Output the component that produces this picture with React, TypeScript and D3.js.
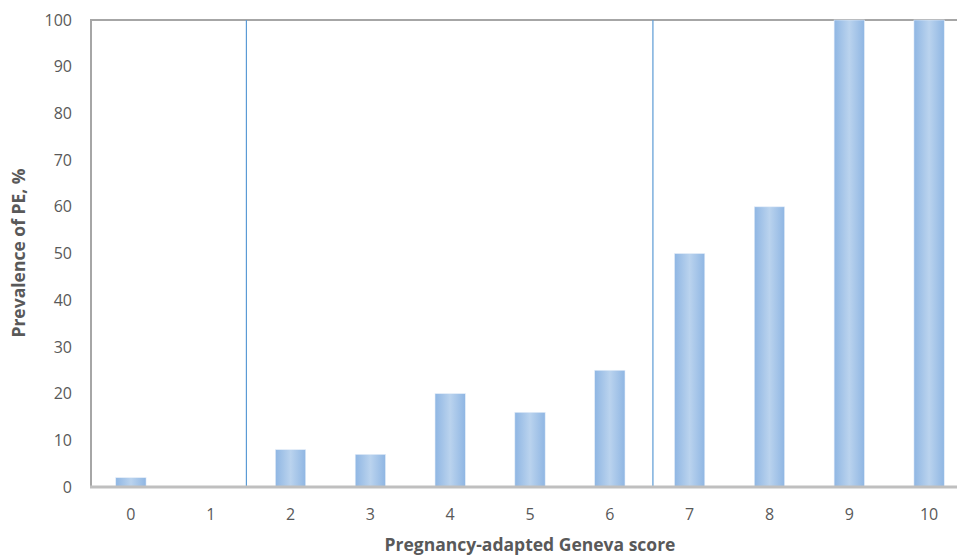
import React from "react";
import * as d3 from "d3";

const categories = ["0", "1", "2", "3", "4", "5", "6", "7", "8", "9", "10"];
const prevalence = [2, 0, 8, 7, 20, 16, 25, 50, 60, 100, 100];
const yTicks = [0, 10, 20, 30, 40, 50, 60, 70, 80, 90, 100];
const cutoffs = [1.447, 6.54];

const W = 957;
const H = 556;
const M = { left: 91, right: 969, top: 20, bottom: 487 };

export default function App() {
  const x = d3.scaleBand<string>().domain(categories).range([M.left, M.right]).paddingInner(0.62).paddingOuter(0.31);
  const step = x.step();
  const center = (i: number) => (x(categories[0]) as number) + x.bandwidth() / 2 + i * step;
  const y = d3.scaleLinear().domain([0, 100]).range([M.bottom, M.top]);
  const font = "'Open Sans', 'Liberation Sans', sans-serif";
  return (
    <svg width={W} height={H} style={{ position: "absolute", left: 0, top: 0, background: "#fff" }}>
      <defs>
        <linearGradient id="barGrad" x1="0" x2="1" y1="0" y2="0">
          <stop offset="0%" stopColor="#8fb6e3" />
          <stop offset="50%" stopColor="#bad3ee" />
          <stop offset="100%" stopColor="#8fb6e3" />
        </linearGradient>
      </defs>
      <line x1={M.left} x2={W} y1={M.top} y2={M.top} stroke="#a6a6a6" strokeWidth={2} />
      <line x1={M.left} x2={M.left} y1={M.top - 1} y2={M.bottom} stroke="#a6a6a6" strokeWidth={2} />
      {categories.map((c, i) => {
        const v = prevalence[i];
        if (v <= 0) return null;
        return (
          <rect key={c} x={x(c)} width={x.bandwidth()} y={y(v)} height={y(0) - y(v)} fill="url(#barGrad)" stroke="#e6eef9" strokeWidth={0.6} />
        );
      })}
      {cutoffs.map((c, i) => (
        <line key={i} x1={center(c)} x2={center(c)} y1={M.top} y2={M.bottom} stroke="#5b9bd5" strokeWidth={1.2} />
      ))}
      <line x1={M.left - 1} x2={W} y1={M.bottom} y2={M.bottom} stroke="#bfbfbf" strokeWidth={3} />
      {yTicks.map((t) => (
        <text key={t} x={72} y={y(t)} dy="0.35em" textAnchor="end" fontFamily={font} fontSize={16} fill="#595959">
          {t}
        </text>
      ))}
      {categories.map((c) => (
        <text key={c} x={(x(c) as number) + x.bandwidth() / 2} y={514} dy="0.35em" textAnchor="middle" fontFamily={font} fontSize={16} fill="#595959">
          {c}
        </text>
      ))}
      <text x={530} y={545} dy="0.35em" textAnchor="middle" fontFamily={font} fontSize={17.5} fontWeight="bold" fill="#595959">
        Pregnancy-adapted Geneva score
      </text>
      <text transform={`translate(19,253) rotate(-90)`} dy="0.35em" textAnchor="middle" fontFamily={font} fontSize={17.5} fontWeight="bold" fill="#595959">
        Prevalence of PE, %
      </text>
    </svg>
  );
}
